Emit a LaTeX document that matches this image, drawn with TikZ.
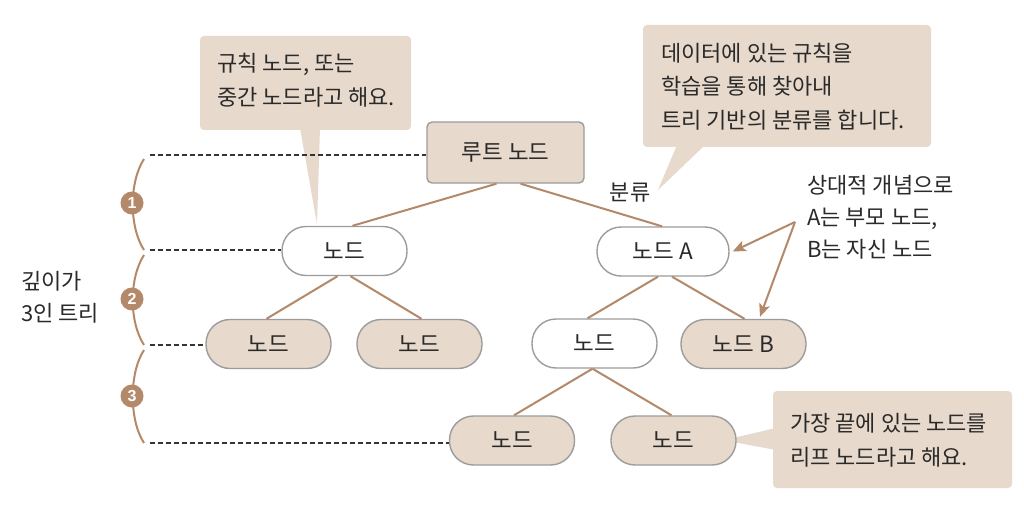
\documentclass[tikz,border=0pt]{standalone}
\usepackage{fontspec}
\setmainfont{Noto Sans CJK KR}
\newfontfamily\numfont{Liberation Sans}
\usetikzlibrary{calc,arrows.meta}
\definecolor{beige}{HTML}{E7D9CB}
\definecolor{edgegray}{HTML}{9C9C9C}
\definecolor{brownline}{HTML}{B3896A}
\definecolor{txt}{HTML}{2A2A2A}
\definecolor{dashcol}{HTML}{333333}
\tikzset{
  pill/.style={draw=edgegray, line width=1.4pt, rounded corners=24pt, minimum width=125pt, minimum height=49pt, inner sep=0pt, text=txt, font=\fontsize{22.5}{26}\selectfont},
  pillB/.style={pill, fill=beige},
  pillW/.style={pill, fill=white},
  rootbox/.style={draw=edgegray, line width=1.4pt, rounded corners=5pt, fill=beige, minimum width=157pt, minimum height=61pt, inner sep=0pt, text=txt, font=\fontsize{22.5}{26}\selectfont},
  conn/.style={draw=brownline, line width=2pt},
  levelline/.style={draw=dashcol, line width=1.4pt, dash pattern=on 5pt off 3pt},
  bracearc/.style={draw=brownline, line width=2pt},
  numdot/.style={circle, fill=brownline, minimum size=23pt, inner sep=0pt, text=white, font=\numfont\bfseries\fontsize{16}{16}\selectfont},
  ctext/.style={align=left, inner sep=0pt, text=txt, font=\fontsize{22}{33.5}\selectfont},
  bubble/.style={fill=beige},
  pointer/.style={draw=brownline, line width=2pt, -{Stealth[length=13pt, width=11pt, inset=3pt]}}
}
\begin{document}
\begin{tikzpicture}[x=1pt,y=-1pt]
\useasboundingbox (0,0) rectangle (1024,513);
\fill[white] (0,0) rectangle (1024,513);

% callouts
\fill[bubble, rounded corners=4pt] (200,36) rectangle (411,130);
\fill[bubble] (300,128) -- (320,128) -- (317,224) -- cycle;
\node[ctext, anchor=west] (c1) at (217,80) {규칙 노드, 또는\\중간 노드라고 해요.};

\fill[bubble, rounded corners=4pt] (643,25) rectangle (931,147);
\fill[bubble] (677,145) -- (705,145) -- (658,190) -- cycle;
\node[ctext, anchor=west] (c2) at (661,86.5) {데이터에 있는 규칙을\\학습을 통해 찾아내\\트리 기반의 분류를 합니다.};

\fill[bubble, rounded corners=4pt] (773,391) rectangle (1012,488);
\fill[bubble] (733,438) -- (776,428) -- (776,450) -- (733,442) -- cycle;
\node[ctext, anchor=west] (c3) at (790,440.5) {가장 끝에 있는 노드를\\리프 노드라고 해요.};

% nodes
\node[rootbox] (root) at (505.5,152.5) {루트 노드};
\node[pillW] (n1) at (344.5,251) {노드};
\node[pillW, minimum width=132pt] (nA) at (663,251.5) {노드 A};
\node[pillB] (n3a) at (268.5,344) {노드};
\node[pillB] (n3b) at (419.5,344) {노드};
\node[pillW] (n3c) at (594.5,343.5) {노드};
\node[pillB] (nB) at (743.5,344) {노드 B};
\node[pillB] (n4a) at (512,440.5) {노드};
\node[pillB] (n4b) at (673.5,440.5) {노드};

% level lines
\coordinate (d1) at (150,155);
\coordinate (d2) at (150,250);
\coordinate (d3) at (150,345);
\coordinate (d4) at (150,443);
\draw[levelline] (d1) -- (d1 -| root.west);
\draw[levelline] (d2) -- (d2 -| n1.west);
\draw[levelline] (d3) -- (d3 -| n3a.west);
\draw[levelline] (d4) -- (d4 -| n4a.west);

% connectors
\draw[conn] ($(root.south)+(-9,0)$) -- ($(n1.north)+(8,0)$);
\draw[conn] ($(root.south)+(15,0)$) -- ($(nA.north)+(-1,0)$);
\draw[conn] ($(n1.south)+(-7,0)$) -- ($(n3a.north)+(-2,0)$);
\draw[conn] ($(n1.south)+(6,0)$) -- ($(n3b.north)+(2,0)$);
\draw[conn] ($(nA.south)+(-5,0)$) -- ($(n3c.north)+(-7,0)$);
\draw[conn] ($(nA.south)+(9,0)$) -- ($(nB.north)+(1,0)$);
\draw[conn] ($(n3c.south)+(-2,0)$) -- ($(n4a.north)+(2,0)$);
\draw[conn] ($(n3c.south)+(-2,0)$) -- ($(n4b.north)+(-2,0)$);

\node[text=txt, font=\fontsize{22}{26}\selectfont, inner sep=0pt] (lbl) at (630,193) {분류};

% relative text and arrows
\node[ctext, anchor=west, font=\fontsize{22}{32}\selectfont] (rel) at (807,217) {상대적 개념으로\\A는 부모 노드,\\B는 자신 노드};
\coordinate (ap) at (795,222);
\draw[pointer] (ap) -- ($(nA.east)+(3,0)$);
\draw[pointer] (ap) -- ($(nB.north)+(16.5,-2)$);

% depth brace
\draw[bracearc] (144,159) .. controls (129,182) and (129,227) .. (144,250);
\draw[bracearc] (144,255) .. controls (129,278) and (129,322) .. (144,345);
\draw[bracearc] (144,350) .. controls (129,373) and (129,420) .. (144,443);
\node[numdot] (k1) at (132,203) {1};
\node[numdot] (k2) at (132,299) {2};
\node[numdot] (k3) at (132,396) {3};
\node[ctext, anchor=west, font=\fontsize{22}{32}\selectfont] (depth) at (21,297) {깊이가\\3인 트리};
\end{tikzpicture}
\end{document}
